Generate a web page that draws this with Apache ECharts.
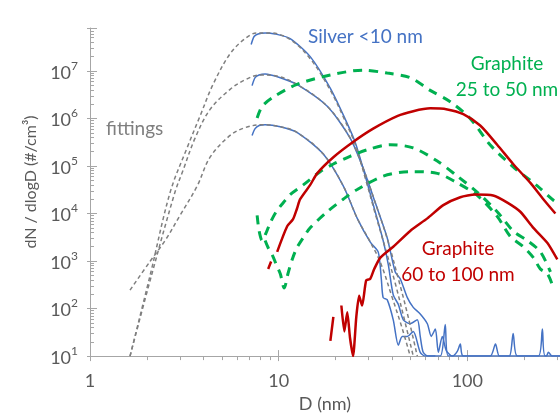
<!DOCTYPE html>
<html><head><meta charset="utf-8">
<script src="https://cdn.jsdelivr.net/npm/echarts@6/dist/echarts.min.js"></script>
<style>html,body{margin:0;padding:0;background:#fff}#c{width:560px;height:418px}</style>
</head><body><div id="c"></div>
<script>
// tick labels
const xTickLabels = ['1', '10', '100'];
const yTickExponents = [1, 2, 3, 4, 5, 6, 7];

// gray dashed fittings [D (nm), dN/dlogD]
const fitA = [[1.63,10],[2.08,490],[2.66,2.8e4],[3.27,2.4e5],[3.83,1.12e6],[4.49,5.2e6],[5.53,2.3e7],[6.64,4.8e7],[7.69,6.3e7],[9.01,6.3e7],[11.5,4.6e7],[14.7,1.8e7],[18.8,3.9e6],[22.5,8.9e5],[25.5,2.8e5],[28.8,5.5e4],[32.5,1.0e4],[36.7,1.9e3],[41.5,340],[46.3,61],[51.7,10]];
const fitB = [[1.63,10],[2.13,540],[2.82,2.8e4],[3.11,8.0e4],[3.61,3.9e5],[4.33,1.55e6],[5.53,4.1e6],[6.64,6.5e6],[7.98,8.2e6],[9.58,7.9e6],[12.5,5.2e6],[18.1,1.8e6],[23.9,3.9e5],[28.1,8.8e4],[32.5,1.7e4],[37.6,3.0e3],[43.1,425],[48.6,67],[54.3,10]];
const fitC = [[1.63,245],[2.08,980],[2.50,2.7e3],[3.00,9.1e3],[3.70,3.8e4],[4.33,1.53e5],[5.53,4.4e5],[6.64,6.4e5],[8.18,7.4e5],[10.2,6.7e5],[12.5,5.1e5],[17.2,1.8e5],[22.0,3.8e4],[26.1,7.9e3],[30.6,2.5e3],[34.6,940],[40.0,170],[45.2,38],[49.8,10]];

// Silver <10 nm (blue)
const silverA = [[7.15,3.6e7],[7.41,5.3e7],[7.78,6.0e7],[8.48,6.3e7],[9.58,6.0e7],[11.5,4.8e7],[14.7,2.0e7],[18.8,4.3e6],[22.5,9.8e5],[25.5,3.1e5],[28.8,6.1e4],[32.5,1.09e4],[35.8,2.7e3],[38.1,855],[40.5,194],[43.1,122],[45.8,58],[49.8,48],[54.3,58],[56.3,26],[58.4,12],[62.1,10],[71.9,10],[76.4,46],[79.3,10],[132,10],[141,18],[148,10],[167,10],[175,30],[184,10],[238,10],[250,37],[259,10],[311,10]];
const silverB = [[7.23,4.9e6],[7.50,7.2e6],[7.88,8.2e6],[8.48,8.6e6],[10.2,7.2e6],[12.5,5.2e6],[18.1,1.8e6],[23.9,3.9e5],[28.1,8.8e4],[32.5,1.7e4],[37.6,3.1e3],[41.5,590],[44.1,425],[48.1,170],[51.7,106],[56.3,77],[61.4,48],[64.4,26],[67.7,37],[70.2,12],[73.7,26],[77.4,13],[83.3,10],[88.5,12.6],[91.8,18],[95.2,10],[216,10],[262,10],[269,12],[282,10],[311,10]];
const silverC = [[7.23,4.4e5],[7.50,6.1e5],[7.88,7.1e5],[8.48,7.4e5],[10.2,6.7e5],[12.5,5.1e5],[17.2,1.8e5],[22.0,3.8e4],[26.1,7.9e3],[30.6,2.5e3],[33.7,1.56e3],[35.0,425],[35.8,170],[37.6,154],[40.5,58],[43.1,17],[45.2,26],[48.1,26],[51.7,33],[56.3,12],[59.9,10],[67.7,10]];

// Graphite 25 to 50 nm (green dashed)
const graphite2550A = [[7.69,1.02e6],[8.18,1.8e6],[9.35,2.8e6],[12.5,5.2e6],[18.8,8.2e6],[28.1,1.04e7],[37.6,9.0e6],[49.8,7.2e6],[63.6,3.9e6],[81.2,2.25e6],[104,9.8e5],[132,2.8e5],[175,9.6e4],[235,3.8e4],[286,1.9e4],[311,1.58e4]];
const graphite2550B = [[7.69,9.1e3],[7.88,4.3e3],[8.18,2.7e3],[8.58,3.9e3],[9.01,6.3e3],[9.70,1.09e4],[10.6,1.7e4],[11.5,2.5e4],[13.5,4.0e4],[16.6,7.6e4],[19.5,1.1e5],[23.9,1.6e5],[29.5,2.2e5],[39.0,2.8e5],[51.7,2.4e5],[69.3,1.27e5],[88.5,6.1e4],[113,2.8e4],[144,1.09e4],[175,4.3e3],[208,2.7e3],[244,1.56e3],[276,590]];
const graphite2550C = [[8.48,2.7e3],[8.80,1.9e3],[9.24,1.36e3],[9.70,855],[10.2,540],[10.7,270],[11.2,540],[11.8,1.08e3],[12.5,1.9e3],[13.5,3.1e3],[14.7,5.0e3],[18.1,1.09e4],[22.0,2.0e4],[26.1,3.2e4],[35.8,6.1e4],[49.8,7.6e4],[69.3,7.0e4],[88.5,4.4e4],[113,2.4e4],[144,8.7e3],[169,3.3e3],[198,2.0e3],[224,1.18e3],[244,680],[266,540],[286,270]];

// Graphite 60 to 100 nm (red solid)
const graphite60100A = [[8.80,680],[9.12,980],[9.5,'-'],[9.82,1.56e3],[11.1,5.4e3],[11.9,7.5e3],[12.5,1.26e4],[13.0,2.0e4],[14.7,4.0e4],[16.0,7.0e4],[19.5,1.53e5],[24.8,3.2e5],[31.7,6.1e5],[42.5,1.12e6],[51.7,1.42e6],[63.6,1.63e6],[78.3,1.55e6],[95.2,1.23e6],[117,7.1e5],[144,2.8e5],[175,1.1e5],[216,4.4e4],[253,2.0e4],[293,1.0e4]];
const graphite60100B = [[18.8,21],[19.5,67],[20.5,'-'],[21.5,116],[22.3,33],[23.1,84],[23.9,24],[24.8,10],[25.8,67],[26.7,185],[27.7,116],[29.1,390],[30.6,425],[32.1,680],[34.6,1.18e3],[40.5,2.0e3],[49.8,4.3e3],[61.4,7.9e3],[74.6,1.5e4],[91.8,2.2e4],[110,2.5e4],[137,2.4e4],[163,1.7e4],[191,1.09e4],[224,5.0e3],[266,2.4e3],[300,1.08e3]];

const FONT = 'Lato, "Noto Sans", sans-serif';
const AX = '#A6A6A6';
const TXT = '#595959';
const BLUE = '#4472C4', GREEN = '#00B050', RED = '#C00000', GRAY = '#7F7F7F';

function pow10Exp(v) {
  const e = Math.round(Math.log10(v));
  return Math.abs(v / Math.pow(10, e) - 1) < 1e-6 ? e : null;
}

const chart = echarts.init(document.getElementById('c'));

function line(data, color, width, type, smooth, z) {
  return { type: 'line', data: data, showSymbol: false, symbol: 'none', smooth: smooth,
    connectNulls: false, z: z, animation: false,
    lineStyle: { color: color, width: width, type: type } };
}

const xBase = { type: 'log', logBase: 10, min: 1, max: 310, splitLine: { show: false }, minorSplitLine: { show: false } };
const yBase = { type: 'log', logBase: 10, min: 10, max: 8e7, splitLine: { show: false }, minorSplitLine: { show: false } };

chart.setOption({
  backgroundColor: '#fff',
  animation: false,
  grid: { left: 90, right: 0, top: 28, bottom: 47, containLabel: false },
  xAxis: [
    Object.assign({}, xBase, {
      position: 'bottom',
      axisLine: { show: true, lineStyle: { color: AX, width: 1 } },
      axisTick: { show: true, inside: true, length: 6, lineStyle: { color: AX } },
      minorTick: { show: false },
      axisLabel: { color: TXT, fontSize: 18, fontFamily: FONT, margin: 16, showMaxLabel: false,
        formatter: function (v) { const e = pow10Exp(v); return e === null ? '' : xTickLabels[e] || ''; } },
      name: 'D (nm)', nameLocation: 'middle', nameGap: 24,
      nameTextStyle: { color: TXT, fontSize: 18, fontFamily: FONT }
    }),
    Object.assign({}, xBase, {
      position: 'bottom',
      axisLine: { show: false },
      axisTick: { show: true, inside: false, length: 5, lineStyle: { color: AX } },
      minorTick: { show: true, splitNumber: 9, length: 4, lineStyle: { color: AX } },
      axisLabel: { show: false }
    })
  ],
  yAxis: [
    Object.assign({}, yBase, {
      position: 'left',
      axisLine: { show: true, lineStyle: { color: AX, width: 1 } },
      axisTick: { show: true, inside: true, length: 7, lineStyle: { color: AX } },
      minorTick: { show: true, splitNumber: 9, length: 4, lineStyle: { color: AX } },
      axisLabel: { color: TXT, fontSize: 18, fontFamily: FONT, margin: 12, showMaxLabel: false,
        formatter: function (v) {
          const e = pow10Exp(v);
          if (e === null || yTickExponents.indexOf(e) < 0) return '';
          return '{b|10}{s|' + e + '}';
        },
        rich: {
          b: { fontSize: 18, fontFamily: FONT, color: TXT, lineHeight: 22, verticalAlign: 'bottom' },
          s: { fontSize: 12, fontFamily: FONT, color: TXT, lineHeight: 22, verticalAlign: 'top', padding: [0, 0, 6, 0] }
        }
      },
      name: 'dN / dlogD (#/cm³)', nameLocation: 'middle', nameGap: 50,
      nameTextStyle: { color: TXT, fontSize: 16, fontFamily: FONT, padding: [0, 0, 0, 20] }
    }),
    Object.assign({}, yBase, {
      position: 'left',
      axisLine: { show: false },
      axisTick: { show: true, inside: false, length: 3, lineStyle: { color: AX } },
      minorTick: { show: false },
      axisLabel: { show: false }
    })
  ],
  series: [
    line(silverA, BLUE, 1.5, 'solid', 0.25, 3),
    line(silverB, BLUE, 1.5, 'solid', 0.25, 3),
    line(silverC, BLUE, 1.5, 'solid', 0.25, 3),
    line(fitA, GRAY, 1.5, [4, 3], 0.35, 4),
    line(fitB, GRAY, 1.5, [4, 3], 0.35, 4),
    line(fitC, GRAY, 1.5, [4, 3], 0.35, 4),
    line(graphite2550A, GREEN, 3, [9, 7], 0.3, 5),
    line(graphite2550B, GREEN, 3, [9, 7], 0.3, 5),
    line(graphite2550C, GREEN, 3, [9, 7], 0.3, 5),
    line(graphite60100A, RED, 2.5, 'solid', 0.25, 6),
    line(graphite60100B, RED, 2.5, 'solid', 0.2, 6)
  ],
  graphic: [
    { type: 'text', x: 308, y: 37, style: { text: 'Silver <10 nm', fill: BLUE, fontSize: 19, fontFamily: FONT, align: 'left', verticalAlign: 'middle' } },
    { type: 'text', x: 507, y: 64, style: { text: 'Graphite', fill: GREEN, fontSize: 19, fontFamily: FONT, align: 'center', verticalAlign: 'middle' } },
    { type: 'text', x: 507, y: 90, style: { text: '25 to 50 nm', fill: GREEN, fontSize: 19, fontFamily: FONT, align: 'center', verticalAlign: 'middle' } },
    { type: 'text', x: 458, y: 249, style: { text: 'Graphite', fill: RED, fontSize: 19, fontFamily: FONT, align: 'center', verticalAlign: 'middle' } },
    { type: 'text', x: 458, y: 275, style: { text: '60 to 100 nm', fill: RED, fontSize: 19, fontFamily: FONT, align: 'center', verticalAlign: 'middle' } },
    { type: 'text', x: 106, y: 129, style: { text: 'fittings', fill: GRAY, fontSize: 19, fontFamily: FONT, align: 'left', verticalAlign: 'middle' } }
  ]
});
</script>
</body></html>
